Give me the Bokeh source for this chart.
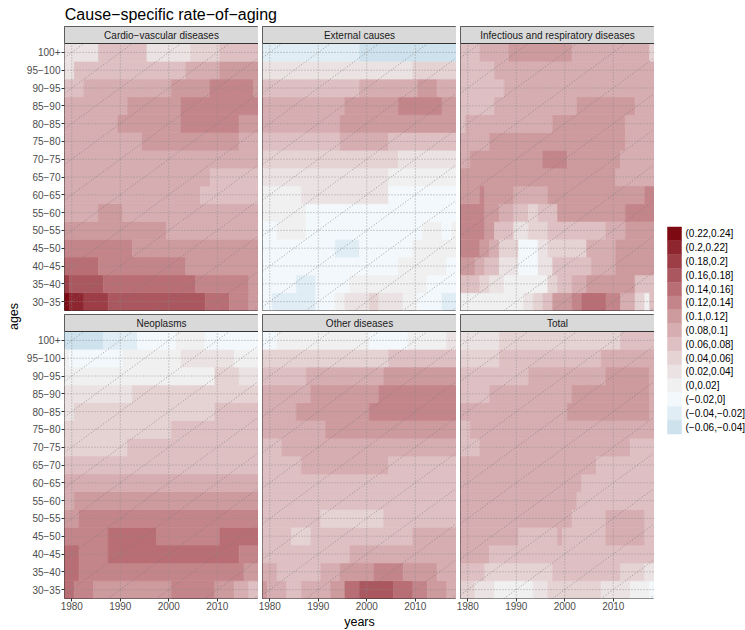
import math
from bokeh.plotting import figure
from bokeh.models import Range1d, FixedTicker, Label, ColumnDataSource
from bokeh.layouts import row, column
from bokeh.embed import file_html
from bokeh.resources import INLINE
from bokeh.core.properties import value

# ---------------- data ----------------
TITLE = "Cause\u2212specific rate\u2212of\u2212aging"
X_LABEL = "years"
Y_LABEL = "ages"
ages = ["30\u221235", "35\u221240", "40\u221245", "45\u221250", "50\u221255", "55\u221260",
        "60\u221265", "65\u221270", "70\u221275", "75\u221280", "80\u221285", "85\u221290",
        "90\u221295", "95\u2212100", "100+"]
year_first, year_last = 1979, 2018
year_ticks = [1980, 1990, 2000, 2010]

legend_labels = ["(0.22,0.24]", "(0.2,0.22]", "(0.18,0.2]", "(0.16,0.18]", "(0.14,0.16]",
                 "(0.12,0.14]", "(0.1,0.12]", "(0.08,0.1]", "(0.06,0.08]", "(0.04,0.06]",
                 "(0.02,0.04]", "(0,0.02]", "(\u22120.02,0]", "(\u22120.04,\u22120.02]",
                 "(\u22120.06,\u22120.04]"]
legend_colors = ["#7D0A12", "#8E2630", "#9D3E47", "#AB5760", "#B86E74", "#C4858A", "#CD9A9E",
                 "#D6ADB0", "#DEC0C2", "#E5D2D3", "#EBE3E3", "#F0F0F0", "#F3F8FC", "#E0EDF5",
                 "#CEE2ED"]
bin_top = 0.24
bin_width = 0.02

# rate-of-aging runs: (first year of run, rate); run lasts until next start
cardio = {
    "100+":    [(1979, 0.03), (1986, 0.07), (1996, 0.03), (2005, 0.05), (2011, 0.07)],
    "95\u2212100": [(1979, 0.03), (1981, 0.07), (2004, 0.09), (2011, 0.11)],
    "90\u221295":  [(1979, 0.07), (1983, 0.09), (2001, 0.11), (2009, 0.13), (2018, 0.11)],
    "85\u221290":  [(1979, 0.09), (1992, 0.11), (2003, 0.13)],
    "80\u221285":  [(1979, 0.09), (1990, 0.11), (2003, 0.13), (2015, 0.11)],
    "75\u221280":  [(1979, 0.09), (1995, 0.11), (2015, 0.09)],
    "70\u221275":  [(1979, 0.09)],
    "65\u221270":  [(1979, 0.09), (2009, 0.07)],
    "60\u221265":  [(1979, 0.09), (2007, 0.07)],
    "55\u221260":  [(1979, 0.09), (1986, 0.11), (1991, 0.09)],
    "50\u221255":  [(1979, 0.11), (2000, 0.09)],
    "45\u221250":  [(1979, 0.13), (1993, 0.11)],
    "40\u221245":  [(1979, 0.15), (1986, 0.13), (2004, 0.11)],
    "35\u221240":  [(1979, 0.19), (1980, 0.17), (1987, 0.15), (2006, 0.13), (2017, 0.11)],
    "30\u221235":  [(1979, 0.23), (1980, 0.21), (1983, 0.19), (1988, 0.17), (2008, 0.15),
                    (2013, 0.13), (2017, 0.11)],
}
external = {
    "100+":    [(1979, -0.03), (1999, -0.05)],
    "95\u2212100": [(1979, 0.03), (2010, 0.05)],
    "90\u221295":  [(1979, 0.07), (1999, 0.09), (2011, 0.11), (2015, 0.09)],
    "85\u221290":  [(1979, 0.09), (1996, 0.11), (2007, 0.13), (2016, 0.11)],
    "80\u221285":  [(1979, 0.09), (1995, 0.11)],
    "75\u221280":  [(1979, 0.07), (1995, 0.09), (2005, 0.07)],
    "70\u221275":  [(1979, 0.05), (2007, 0.03)],
    "65\u221270":  [(1979, 0.03), (2005, 0.01)],
    "60\u221265":  [(1979, 0.01), (1987, 0.03), (2005, -0.01)],
    "55\u221260":  [(1979, 0.01), (1988, -0.01)],
    "50\u221255":  [(1979, -0.01), (1982, 0.01), (1988, -0.01), (2012, 0.01), (2016, -0.01),
                    (2018, 0.01)],
    "45\u221250":  [(1979, -0.01), (1994, -0.03), (1999, -0.01), (2010, 0.01)],
    "40\u221245":  [(1979, -0.01), (2007, 0.01), (2017, -0.01)],
    "35\u221240":  [(1979, -0.01), (1986, -0.03), (1990, -0.01), (1997, 0.01), (2013, -0.01)],
    "30\u221235":  [(1979, -0.01), (1981, -0.03), (1990, -0.01), (1994, 0.01), (1996, 0.03),
                    (2001, 0.05), (2003, 0.03), (2008, 0.01), (2011, -0.01), (2016, -0.03)],
}
infectious = {
    "100+":    [(1979, 0.07), (1983, 0.09), (1989, 0.11), (2002, 0.09), (2018, 0.05)],
    "95\u2212100": [(1979, 0.07), (1986, 0.09)],
    "90\u221295":  [(1979, 0.07), (1988, 0.09)],
    "85\u221290":  [(1979, 0.07), (1986, 0.09), (2003, 0.11), (2015, 0.09)],
    "80\u221285":  [(1979, 0.07), (1980, 0.09), (1998, 0.11), (2013, 0.09)],
    "75\u221280":  [(1979, 0.09), (1985, 0.11), (2013, 0.09)],
    "70\u221275":  [(1979, 0.09), (1981, 0.11), (1996, 0.13), (2001, 0.11), (2012, 0.09)],
    "65\u221270":  [(1979, 0.11), (2011, 0.09)],
    "60\u221265":  [(1979, 0.11), (1983, 0.13), (1984, 0.11), (1990, 0.09), (1997, 0.11),
                    (2017, 0.13)],
    "55\u221260":  [(1979, 0.13), (1984, 0.11), (1987, 0.09), (1990, 0.07), (1993, 0.05),
                    (1995, 0.07), (1999, 0.11), (2013, 0.13)],
    "50\u221255":  [(1979, 0.13), (1984, 0.11), (1986, 0.07), (1990, 0.03), (1993, 0.05),
                    (1997, 0.07), (2009, 0.09), (2013, 0.11)],
    "45\u221250":  [(1979, 0.13), (1983, 0.11), (1985, 0.09), (1987, 0.05), (1991, -0.01),
                    (1995, 0.03), (1997, 0.05), (2005, 0.09), (2011, 0.11)],
    "40\u221245":  [(1979, 0.11), (1982, 0.09), (1984, 0.07), (1987, 0.03), (1991, -0.01),
                    (1995, 0.03), (1998, 0.07), (2006, 0.09), (2011, 0.11)],
    "35\u221240":  [(1979, 0.07), (1983, 0.05), (1985, 0.03), (1988, 0.01), (1997, 0.05),
                    (1999, 0.07), (2002, 0.09), (2005, 0.11), (2015, 0.07)],
    "30\u221235":  [(1979, 0.01), (1992, 0.03), (1994, 0.05), (1996, 0.07), (1998, 0.11),
                    (2002, 0.13), (2004, 0.15), (2009, 0.13), (2012, 0.09), (2015, 0.05),
                    (2017, 0.01), (2018, 0.07)],
}
neoplasms = {
    "100+":    [(1979, -0.05), (1987, -0.03), (1994, -0.01), (2002, 0.01), (2008, -0.01)],
    "95\u2212100": [(1979, 0.01), (1980, -0.01), (1991, 0.01), (2003, 0.03), (2014, 0.01)],
    "90\u221295":  [(1979, 0.01), (2010, 0.05), (2015, 0.03)],
    "85\u221290":  [(1979, 0.03), (1993, 0.05)],
    "80\u221285":  [(1979, 0.03), (1981, 0.05), (2010, 0.07)],
    "75\u221280":  [(1979, 0.05), (2001, 0.07)],
    "70\u221275":  [(1979, 0.05), (1992, 0.07)],
    "65\u221270":  [(1979, 0.07)],
    "60\u221265":  [(1979, 0.09)],
    "55\u221260":  [(1979, 0.09), (1981, 0.11)],
    "50\u221255":  [(1979, 0.11), (1982, 0.13)],
    "45\u221250":  [(1979, 0.13), (1988, 0.15), (1998, 0.13), (2011, 0.15)],
    "40\u221245":  [(1979, 0.15), (1982, 0.13), (1988, 0.15), (2015, 0.13)],
    "35\u221240":  [(1979, 0.15), (1982, 0.13), (2016, 0.11)],
    "30\u221235":  [(1979, 0.15), (1981, 0.13), (1985, 0.11), (2001, 0.13), (2010, 0.11),
                    (2014, 0.09), (2017, 0.07)],
}
other = {
    "100+":    [(1979, -0.01), (1982, 0.01), (2001, -0.01), (2009, 0.01), (2017, 0.03)],
    "95\u2212100": [(1979, 0.05), (2005, 0.07)],
    "90\u221295":  [(1979, 0.07), (1988, 0.09), (2004, 0.11)],
    "85\u221290":  [(1979, 0.09), (1989, 0.11), (2003, 0.13)],
    "80\u221285":  [(1979, 0.09), (1986, 0.11), (2001, 0.13)],
    "75\u221280":  [(1979, 0.09), (1992, 0.11)],
    "70\u221275":  [(1979, 0.07), (1983, 0.09)],
    "65\u221270":  [(1979, 0.07), (1987, 0.09), (2005, 0.07)],
    "60\u221265":  [(1979, 0.07)],
    "55\u221260":  [(1979, 0.07)],
    "50\u221255":  [(1979, 0.07), (1991, 0.05), (2004, 0.07)],
    "45\u221250":  [(1979, 0.07), (1985, 0.05), (1989, 0.07), (2010, 0.09)],
    "40\u221245":  [(1979, 0.07), (1997, 0.09)],
    "35\u221240":  [(1979, 0.09), (1982, 0.07), (1991, 0.09), (1995, 0.11), (2002, 0.13),
                    (2008, 0.11), (2015, 0.09)],
    "30\u221235":  [(1979, 0.11), (1980, 0.09), (1984, 0.07), (1987, 0.09), (1993, 0.11),
                    (1996, 0.15), (1999, 0.17), (2006, 0.15), (2010, 0.13), (2013, 0.11),
                    (2017, 0.09)],
}
total = {
    "100+":    [(1979, 0.03), (1987, 0.05), (2012, 0.07)],
    "95\u2212100": [(1979, 0.05), (1987, 0.07), (2008, 0.09)],
    "90\u221295":  [(1979, 0.07), (1993, 0.09), (2009, 0.11), (2018, 0.09)],
    "85\u221290":  [(1979, 0.07), (1985, 0.09), (2002, 0.11), (2018, 0.09)],
    "80\u221285":  [(1979, 0.09), (2001, 0.11), (2018, 0.09)],
    "75\u221280":  [(1979, 0.07), (1981, 0.09)],
    "70\u221275":  [(1979, 0.07), (1983, 0.09), (2014, 0.07)],
    "65\u221270":  [(1979, 0.09), (2007, 0.07)],
    "60\u221265":  [(1979, 0.09), (2004, 0.07)],
    "55\u221260":  [(1979, 0.09), (2003, 0.07)],
    "50\u221255":  [(1979, 0.09), (2002, 0.07), (2009, 0.09), (2017, 0.07)],
    "45\u221250":  [(1979, 0.09), (1991, 0.07), (1999, 0.09), (2000, 0.07), (2009, 0.09),
                    (2017, 0.07)],
    "40\u221245":  [(1979, 0.09), (1985, 0.07)],
    "35\u221240":  [(1979, 0.07), (1984, 0.05), (1998, 0.07), (2012, 0.05), (2017, 0.03)],
    "30\u221235":  [(1979, 0.05), (1982, 0.03), (1986, 0.01), (1994, 0.03), (1997, 0.05),
                    (2008, 0.03), (2014, 0.01), (2018, -0.01)],
}
panel_names = ["Cardio\u2212vascular diseases", "External causes",
               "Infectious and respiratory diseases", "Neoplasms", "Other diseases", "Total"]
panel_data = [cardio, external, infectious, neoplasms, other, total]

# ---------------- style / layout ----------------
FONT = "Liberation Sans"
PANEL_W, PANEL_H, STRIP_H = 194, 267, 17
LEFT_AX, GAP, BOTTOM_AX = 42, 4, 15
TITLE_H = 26
YLAB_W, LEG_W = 22, 91
ROW_PX = PANEL_H / len(ages)
STRIP_ROWS = STRIP_H / ROW_PX
N = len(ages)
Y_TOP = N + STRIP_ROWS
X0, X1 = year_first - 0.5, year_last + 0.5
GRID = "#8C8C8C"
DARK = "#333333"


def color_of(rate):
    idx = int(round((bin_top - rate) / bin_width - 0.5))
    return legend_colors[idx]


def make_panel(name, runs, left_axis, bottom_axis):
    mbl = LEFT_AX if left_axis else GAP
    mbb = BOTTOM_AX if bottom_axis else GAP
    p = figure(width=mbl + PANEL_W, height=PANEL_H + STRIP_H + mbb,
               x_range=Range1d(X0, X1), y_range=Range1d(0, Y_TOP),
               x_axis_location="below" if bottom_axis else None,
               y_axis_location="left" if left_axis else None,
               output_backend="svg", toolbar_location=None,
               min_border_left=mbl, min_border_right=0, min_border_top=0,
               min_border_bottom=mbb)
    p.grid.visible = False
    p.background_fill_color = "white"
    p.border_fill_color = "white"
    p.outline_line_color = DARK
    p.outline_line_width = 1

    lefts, rights, bottoms, tops, cols = [], [], [], [], []
    for i, age in enumerate(ages):
        segs = runs[age]
        for j, (start, rate) in enumerate(segs):
            end = segs[j + 1][0] - 1 if j + 1 < len(segs) else year_last
            lefts.append(start - 0.5)
            rights.append(end + 0.5)
            bottoms.append(i)
            tops.append(i + 1)
            cols.append(color_of(rate))
    src = ColumnDataSource(dict(left=lefts, right=rights, bottom=bottoms, top=tops, color=cols))
    p.quad(left="left", right="right", bottom="bottom", top="top", source=src,
           fill_color="color", line_color="color", line_width=0.6)

    centers = [i + 0.5 for i in range(N)]
    p.segment(x0=[X0] * N, y0=centers, x1=[X1] * N, y1=centers,
              line_color=GRID, line_width=0.8, line_dash="1 2")
    p.segment(x0=year_ticks, y0=[0] * len(year_ticks), x1=year_ticks, y1=[N] * len(year_ticks),
              line_color=GRID, line_width=0.8, line_dash="1 2")
    # cohort diagonals: one age group per 5 years, every 10 years
    ms = list(range(-4, 8))
    y0s = [2 * m + 0.5 + (X0 - year_ticks[0]) / 5 for m in ms]
    y1s = [2 * m + 0.5 + (X1 - year_ticks[0]) / 5 for m in ms]
    p.segment(x0=[X0] * len(ms), y0=y0s, x1=[X1] * len(ms), y1=y1s,
              line_color="#7A7A7A", line_width=0.7, line_dash="1 2")

    # strip
    p.quad(left=[X0], right=[X1], bottom=[N], top=[Y_TOP], fill_color="#D9D9D9", line_color=None)
    p.segment(x0=[X0], y0=[N], x1=[X1], y1=[N], line_color=DARK, line_width=1)
    p.add_layout(Label(x=(X0 + X1) / 2, y=N + STRIP_ROWS / 2, text=name,
                       text_align="center", text_baseline="middle",
                       text_font=FONT, text_font_size="10px", text_color="#1A1A1A"))

    for ax in p.axis:
        ax.axis_line_color = None
        ax.major_tick_line_color = DARK
        ax.major_tick_out = 3
        ax.major_tick_in = 0
        ax.minor_tick_line_color = None
        ax.major_label_text_font = FONT
        ax.major_label_text_font_size = "10px"
        ax.major_label_text_color = "#4D4D4D"
        ax.major_label_standoff = 1
    if left_axis:
        ya = p.yaxis[0]
        ya.ticker = FixedTicker(ticks=centers)
        ya.major_label_overrides = {c: a for c, a in zip(centers, ages)}
    if bottom_axis:
        xa = p.xaxis[0]
        xa.ticker = FixedTicker(ticks=year_ticks)
        xa.major_label_standoff = 0
    return p


def blank(w, h):
    f = figure(width=w, height=h, x_range=Range1d(0, w), y_range=Range1d(h, 0),
               x_axis_location=None, y_axis_location=None,
               output_backend="svg", toolbar_location=None,
               min_border_left=0, min_border_right=0, min_border_top=0, min_border_bottom=0)
    f.grid.visible = False
    f.outline_line_color = None
    f.background_fill_color = "white"
    f.border_fill_color = "white"
    return f


panels = []
for k, (name, data) in enumerate(zip(panel_names, panel_data)):
    panels.append(make_panel(name, data, left_axis=(k % 3 == 0), bottom_axis=(k >= 3)))

MID_W = LEFT_AX + PANEL_W + 2 * (GAP + PANEL_W)
TOTAL_H = 630

title_fig = blank(MID_W, TITLE_H)
title_fig.add_layout(Label(x=64.3 - YLAB_W, y=13.5, text=TITLE, text_baseline="middle",
                           text_font=FONT, text_font_size="16px", text_color="black"))

xlab_h = TOTAL_H - TITLE_H - (PANEL_H + STRIP_H + GAP) - (PANEL_H + STRIP_H + BOTTOM_AX)
xlab_fig = blank(MID_W, xlab_h)
xlab_fig.add_layout(Label(x=LEFT_AX + PANEL_W + GAP + PANEL_W / 2, y=xlab_h / 2, text=X_LABEL,
                          text_align="center", text_baseline="middle",
                          text_font=FONT, text_font_size="12.5px", text_color="black"))

ylab_fig = blank(YLAB_W, TOTAL_H)
ylab_fig.add_layout(Label(x=13, y=316, text=Y_LABEL, angle=math.pi / 2,
                          text_align="center", text_baseline="middle",
                          text_font=FONT, text_font_size="12.5px", text_color="black"))

leg_fig = blank(LEG_W, TOTAL_H)
sw_top = 226.5
sw_h = 13.8
n_leg = len(legend_labels)
tops = [sw_top + i * sw_h for i in range(n_leg)]
leg_src = ColumnDataSource(dict(left=[13] * n_leg, right=[27] * n_leg, top=tops,
                                bottom=[t + sw_h for t in tops], color=legend_colors,
                                tx=[31] * n_leg, ty=[t + sw_h / 2 for t in tops],
                                label=legend_labels))
leg_fig.quad(left="left", right="right", top="top", bottom="bottom", source=leg_src,
             fill_color="color", line_color="color", line_width=0.5)
leg_fig.text(x="tx", y="ty", text="label", source=leg_src, text_font=value(FONT),
             text_font_size="10px", text_baseline="middle", text_align="left", text_color="black")

layout = row(ylab_fig,
             column(title_fig, row(*panels[:3]), row(*panels[3:]), xlab_fig),
             leg_fig)

open("out.html", "w").write(file_html(layout, INLINE))
